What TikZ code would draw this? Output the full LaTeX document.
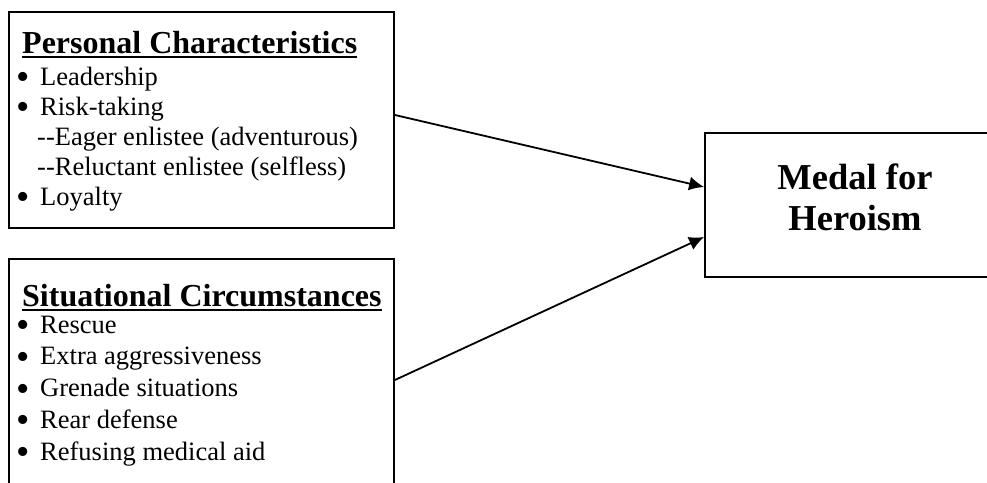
\documentclass[tikz,border=0pt]{standalone}
\usepackage{fontspec}
\setmainfont{Liberation Serif}
\usepackage{tikz}
\usetikzlibrary{calc}
\usetikzlibrary{arrows.meta}
\usetikzlibrary{positioning}
\tikzstyle{panel} = [rectangle, draw=black, line width=1.8pt, inner sep=0pt]
\tikzstyle{heading} = [inner sep=0pt, anchor=base west, font=\fontsize{32}{38}\selectfont\bfseries]
\tikzstyle{items} = [align=left, inner sep=0pt, anchor=base west, font=\fontsize{26.5}{30}\selectfont]
\tikzstyle{link} = [-{Latex[length=15pt, width=14pt]}, draw=black, line width=1.8pt]
\newcommand{\headline}[1]{\setbox0=\hbox{#1}\rlap{\rule[-5pt]{\wd0}{2.4pt}}\box0}
\newcommand{\bul}{\makebox[24pt][l]{\raisebox{-4.5pt}{\fontsize{38}{30}\selectfont\textbullet}}}

\begin{document}
\begin{tikzpicture}[x=1pt, y=-1pt]
\useasboundingbox (0,0) rectangle (987,482);
\node [panel, minimum width=385pt, minimum height=216pt] (PC) at (201.5, 120) {};
\node [heading] (PCt) at (22, 53) {\headline{Personal Characteristics}};
\node [items] (PCl) at (16, 205) {\bul Leadership\\ \bul Risk-taking\\ \hspace*{21pt}-{}-Eager enlistee (adventurous)\\ \hspace*{21pt}-{}-Reluctant enlistee (selfless)\\ \bul Loyalty};
\node [panel, minimum width=385pt, minimum height=242pt] (SC) at (201.5, 380) {};
\node [heading] (SCt) at (22, 306) {\headline{Situational Circumstances}};
\node [items, font=\fontsize{26.5}{31.75}\selectfont] (SCl) at (16, 460) {\bul Rescue\\ \bul Extra aggressiveness\\ \bul Grenade situations\\ \bul Rear defense\\ \bul Refusing medical aid};
\node [panel, minimum width=300pt, minimum height=144pt] (MH) at (855, 205) {};
\node [align=center, font=\fontsize{36.5}{41}\selectfont\bfseries] (MHt) at ([yshift=8pt]MH.center) {Medal for\\Heroism};
\draw [link] ([yshift=5pt]PC.east) to ([yshift=18pt]MH.west);
\draw [link] (SC.east) to ([yshift=-32pt]MH.west);
\end{tikzpicture}
\end{document}
